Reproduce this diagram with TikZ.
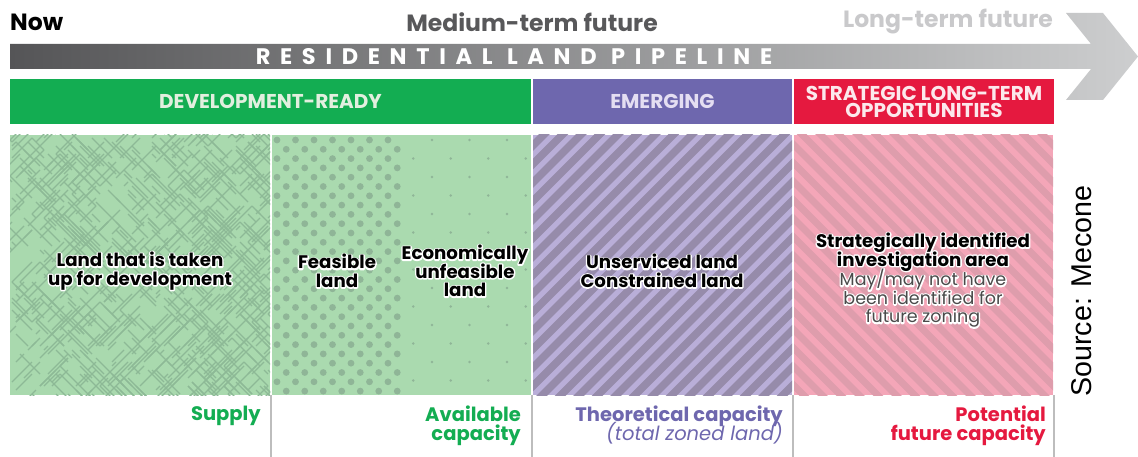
\documentclass[tikz,border=0pt]{standalone}
\usepackage{fontspec}
\setmainfont{Poppins}
\newfontfamily\srcfont{Liberation Sans}

% white outline behind dark panel text: a stroked copy laid under the filled one
\newcommand\halo[1]{\leavevmode\rlap{\special{pdf:literal direct 1 Tr 2.8 w 1 j 1 1 1 RG}#1\special{pdf:literal direct 0 Tr 0.4 w 0 j 0 0 0 RG}}#1}
% keep a fixed baseline distance between lines
\newcommand\fixlead{\lineskiplimit=-30pt\relax}

\definecolor{grn}{HTML}{13AD52}
\definecolor{pur}{HTML}{6E67AE}
\definecolor{rd}{HTML}{E5193F}
\definecolor{grnhdrtxt}{HTML}{E2EFDF}
\definecolor{purhdrtxt}{HTML}{E4DEF2}
\definecolor{rdhdrtxt}{HTML}{FCE8EC}
\definecolor{midgray}{HTML}{58585A}
\definecolor{lightgray}{HTML}{C9C9CB}
\definecolor{arrL}{HTML}{555557}
\definecolor{arrR}{HTML}{CDCECF}
\definecolor{hatchbg}{HTML}{A9D9AE}
\definecolor{hatchln}{HTML}{8DB996}
\definecolor{dotbg}{HTML}{AADAAF}
\definecolor{dotfg}{HTML}{8FB597}
\definecolor{purlt}{HTML}{B9AED8}
\definecolor{purdk}{HTML}{968BAA}
\definecolor{pinklt}{HTML}{F4A6B8}
\definecolor{pinkdk}{HTML}{DE9DAC}
\definecolor{sepgray}{HTML}{BDBDBD}
\definecolor{subgray}{HTML}{4A4A4A}

\begin{document}
\begin{tikzpicture}[x=1pt,y=-1pt,
  timelbl/.style={font=\bfseries\fontsize{23.5}{26}\selectfont, inner sep=0pt},
  hdr/.style={font=\bfseries\fontsize{20}{17}\selectfont\fixlead, inner sep=0pt, align=center,
              minimum height=45pt},
  paneltxt/.style={font=\bfseries\fontsize{18.2}{18.5}\selectfont\fixlead, inner sep=0pt, align=center},
  caplbl/.style={font=\bfseries\fontsize{19.5}{18.5}\selectfont\fixlead, inner sep=0pt, align=right, anchor=north east},
  sep/.style={draw=sepgray, line width=1.4pt},
  hatchline/.style={draw=hatchln, line width=1.2pt},
]
\useasboundingbox (0,0) rectangle (1138,457);
\fill[white] (0,0) rectangle (1138,457);

% ---- timeline captions ----
\node[timelbl, anchor=west, text=black] (now) at (10,22) {Now};
\node[timelbl, text=midgray] (mid) at (532,22) {Medium-term future};
\node[timelbl, anchor=east, text=lightgray] (long) at (1053,22) {Long-term future};

% ---- pipeline arrow ----
\shade[left color=arrL, right color=arrR]
  (10,44) -- (1091,44) -- (1066,13) -- (1103,13) -- (1138,56.5)
  -- (1103,100) -- (1066,100) -- (1091,69) -- (10,69) -- cycle;
\node[inner sep=0pt, text=white,
      font=\bfseries\fontsize{22.5}{24}\selectfont\addfontfeatures{LetterSpace=43}]
  (pipe) at (514,57) {RESIDENTIAL LAND PIPELINE};

% ---- stage headers ----
\node[hdr, fill=grn, text=grnhdrtxt, minimum width=521pt] (devready) at (270.5,101.5) {DEVELOPMENT-READY};
\node[hdr, fill=pur, text=purhdrtxt, minimum width=259pt] (emerging) at (662.5,101.5) {EMERGING};
\node[hdr, fill=rd, text=rdhdrtxt, minimum width=260pt]
  (strategic) at (924,101.5) {STRATEGIC LONG-TERM\\OPPORTUNITIES};

% ---- panel 1: cross-hatched texture ----
\begin{scope}
  \clip (10,135) rectangle (270,395);
  \fill[hatchbg] (10,135) rectangle (270,395);
  \pgfmathsetseed{17}
  \foreach \i in {1,...,880}{
    \pgfmathsetmacro\px{4+4*round(68*rnd)}
    \pgfmathsetmacro\py{130+4*round(68*rnd)}
    \pgfmathsetmacro\len{4*round(1+6*rnd)}
    \pgfmathsetmacro\dir{rnd<0.5 ? 1 : -1}
    \draw[hatchline] (\px,\py) -- ++(\len,\dir*\len);
  }
\end{scope}

% ---- panel 2: dotted textures ----
\fill[dotbg] (272,135) rectangle (531,395);
\begin{scope}
  \clip (272,135) rectangle (402,395);
  \foreach \j in {0,...,28}{
    \foreach \i in {-1,...,7}{
      \pgfmathsetmacro\cx{277+18.5*\i+(mod(\j,2)==1 ? 9.25 : 0)}
      \fill[dotfg] (\cx,140+9.3*\j) circle (3.4pt);
    }
  }
\end{scope}
\begin{scope}
  \clip (402,135) rectangle (531,395);
  \foreach \j in {0,...,14}{
    \foreach \i in {-1,...,3}{
      \pgfmathsetmacro\cx{432+37.5*\i-(mod(\j,2)==1 ? 18.75 : 0)}
      \fill[dotfg] (\cx,140+18.5*\j) circle (1.4pt);
    }
  }
\end{scope}

% ---- panel 3: rising stripes ----
\begin{scope}
  \clip (533,135) rectangle (792,395);
  \fill[purlt] (533,135) rectangle (792,395);
  \foreach \k in {0,...,30}{
    \pgfmathsetmacro\c{660+18.5*\k}
    \draw[purdk, line width=7.5pt] (\c-130,130) -- (\c-400,400);
  }
\end{scope}

% ---- panel 4: falling stripes ----
\begin{scope}
  \clip (794,135) rectangle (1053,395);
  \fill[pinklt] (794,135) rectangle (1053,395);
  \foreach \k in {0,...,30}{
    \pgfmathsetmacro\c{390+18.5*\k}
    \draw[pinkdk, line width=6.8pt] (\c+130,130) -- (\c+400,400);
  }
\end{scope}

% ---- panel texts ----
\node[paneltxt] (takenup) at (140,271) {\halo{Land that is taken}\\\halo{up for development}};
\node[paneltxt] (feasible) at (337,271) {\halo{Feasible}\\\halo{land}};
\node[paneltxt] (unfeasible) at (465,271) {\halo{Economically}\\\halo{unfeasible}\\\halo{land}};
\node[paneltxt] (unserviced) at (662,271) {\halo{Unserviced land}\\\halo{Constrained land}};
\node[paneltxt] (investigation) at (923,252) {\halo{Strategically identified}\\\halo{investigation area}};
\node[paneltxt, font=\fontsize{17.5}{18.5}\selectfont\fixlead, text=subgray] (zoning) at (923,298.5)
  {\halo{May/may not have}\\\halo{been identified for}\\\halo{future zoning}};

% ---- column separators below panels ----
\coordinate (s1) at (271,395); \coordinate (s1b) at (271,457);
\coordinate (s2) at (532,395); \coordinate (s2b) at (532,457);
\coordinate (s3) at (793,395); \coordinate (s3b) at (793,457);
\coordinate (s4) at (1054,395); \coordinate (s4b) at (1054,457);
\draw[sep] (s1) -- (s1b);
\draw[sep] (s2) -- (s2b);
\draw[sep] (s3) -- (s3b);
\draw[sep] (s4) -- (s4b);

% ---- capacity labels ----
\node[caplbl, text=grn] (supply) at (261,406) {Supply};
\node[caplbl, text=grn] (available) at (521,406) {Available\\capacity};
\node[caplbl, text=pur] (theoretical) at (783,406)
  {Theoretical capacity\\{\mdseries\itshape (total zoned land)}};
\node[caplbl, text=rd] (potential) at (1046,406) {Potential\\future capacity};

% ---- source note ----
\node[inner sep=0pt, rotate=90, font=\srcfont\fontsize{28.6}{30}\selectfont, text=black]
  (source) at (1082,291) {Source: Mecone};
\end{tikzpicture}
\end{document}
